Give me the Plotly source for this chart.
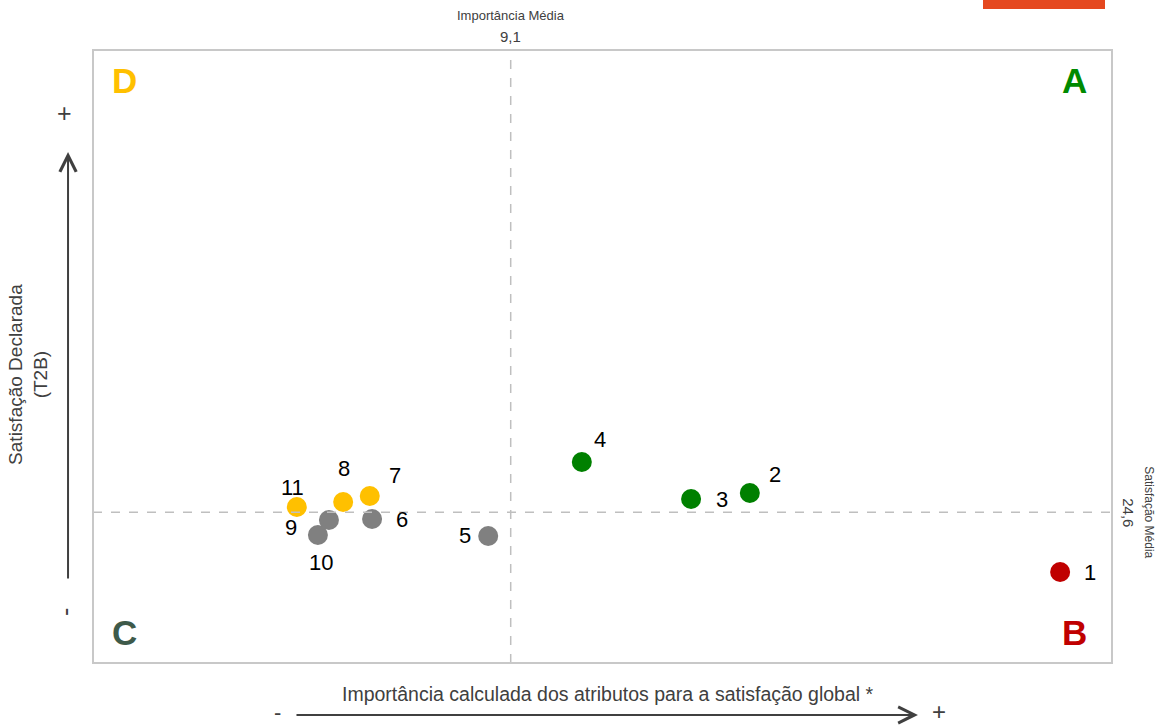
import plotly.graph_objects as go

# ---- data ----
labels = ["1", "2", "3", "4", "5", "6", "7", "8", "9", "10", "11"]
importance = [21.07, 14.31, 13.03, 10.65, 8.61, 6.08, 6.03, 5.45, 5.14, 4.90, 4.44]
satisfaction = [14.85, 27.73, 26.75, 32.79, 20.72, 23.49, 27.24, 26.26, 23.33, 20.88, 25.45]
quadrant = ["B", "A", "A", "A", "C", "C", "D", "D", "C", "C", "D"]
mean_importance = 9.1
mean_satisfaction = 24.6
mean_importance_label = "9,1"
mean_satisfaction_label = "24,6"

# ---- style ----
quad_color = {"A": "#008000", "B": "#C00000", "C": "#808080", "D": "#FFC000"}
letter_color = {"A": "#008A00", "B": "#C00000", "C": "#3E5A4A", "D": "#FFC000"}
label_offsets = [(30, -1), (25, 19), (31, 0), (18, 23), (-23, 0), (30, 0),
                 (25, 21), (1, 34), (-38, -8), (3, -27), (-4, 19)]
FONT = "Liberation Sans Narrow, Arial Narrow, Liberation Sans, Arial, sans-serif"
X_RANGE = [0, 22.2]
Y_RANGE = [0, 100]

fig = go.Figure()
fig.add_trace(go.Scatter(
    x=importance, y=satisfaction, mode="markers",
    marker=dict(size=20, color=[quad_color[q] for q in quadrant], line=dict(width=0)),
    hoverinfo="skip", showlegend=False))

for lab, xv, yv, (dx, dy) in zip(labels, importance, satisfaction, label_offsets):
    fig.add_annotation(x=xv, y=yv, text=lab, showarrow=False, xshift=dx, yshift=dy,
                       font=dict(family=FONT, size=22, color="#000000"))

# mean lines
fig.add_shape(type="line", x0=mean_importance, x1=mean_importance, y0=Y_RANGE[0], y1=Y_RANGE[1],
              xref="x", yref="y", line=dict(color="#BFBFBF", width=1.5, dash="dash"))
fig.add_shape(type="line", x0=X_RANGE[0], x1=X_RANGE[1], y0=mean_satisfaction, y1=mean_satisfaction,
              xref="x", yref="y", line=dict(color="#BFBFBF", width=1.5, dash="dash"))
# border
fig.add_shape(type="rect", x0=0, x1=1, y0=0, y1=1, xref="paper", yref="paper",
              line=dict(color="#C8C8C8", width=2))

# quadrant letters
for q, (px, py, xa, ya) in {"D": (0.017, 0.985, "left", "top"), "A": (0.977, 0.985, "right", "top"),
                            "C": (0.017, 0.015, "left", "bottom"), "B": (0.977, 0.015, "right", "bottom")}.items():
    fig.add_annotation(x=px, y=py, xref="paper", yref="paper", text="<b>%s</b>" % q, showarrow=False,
                       xanchor=xa, yanchor=ya, font=dict(family="Liberation Sans, Arial, sans-serif",
                                                        size=35, color=letter_color[q]))

# mean labels
fig.add_annotation(x=mean_importance, y=1, xref="x", yref="paper", yshift=44, xanchor="center",
                   text="Importância Média", showarrow=False,
                   font=dict(family=FONT, size=13, color="#404040"))
fig.add_annotation(x=mean_importance, y=1, xref="x", yref="paper", yshift=24, xanchor="center",
                   text=mean_importance_label, showarrow=False,
                   font=dict(family=FONT, size=15, color="#404040"))
fig.add_annotation(x=1, y=mean_satisfaction, xref="paper", yref="y", xshift=37, xanchor="center",
                   text="Satisfação Média", textangle=90, showarrow=False,
                   font=dict(family=FONT, size=12, color="#404040"))
fig.add_annotation(x=1, y=mean_satisfaction, xref="paper", yref="y", xshift=17, xanchor="center",
                   text=mean_satisfaction_label, textangle=90, showarrow=False,
                   font=dict(family=FONT, size=15, color="#404040"))

# axis titles
fig.add_annotation(x=0.505, y=0, xref="paper", yref="paper", yshift=-44, xanchor="center",
                   text="Importância calculada dos atributos para a satisfação global *",
                   showarrow=False, font=dict(family=FONT, size=19.5, color="#404040"))
fig.add_annotation(x=0, y=0.47, xref="paper", yref="paper", xshift=-65, xanchor="center",
                   yanchor="middle", text="Satisfação Declarada<br>(T2B)", textangle=-90,
                   showarrow=False, font=dict(family=FONT, size=19, color="#404040"))

# arrows
fig.add_annotation(x=-0.0245, y=0.8336, xref="paper", yref="paper", ax=0, ay=428,
                   axref="pixel", ayref="pixel", text="", showarrow=True,
                   arrowhead=5, arrowsize=1.6, arrowwidth=2, arrowcolor="#404040")
fig.add_annotation(x=0.8096, y=-0.0848, xref="paper", yref="paper", ax=-623, ay=0,
                   axref="pixel", ayref="pixel", text="", showarrow=True,
                   arrowhead=5, arrowsize=1.6, arrowwidth=2, arrowcolor="#404040")
fig.add_annotation(x=0, y=0.8336, xref="paper", yref="paper", xshift=-29, yshift=39, xanchor="center",
                   yanchor="middle", text="+", showarrow=False,
                   font=dict(family=FONT, size=25, color="#404040"))
fig.add_annotation(x=0, y=0.0897, xref="paper", yref="paper", xshift=-28, yshift=-4, xanchor="center",
                   yanchor="middle", text="-", textangle=-90, showarrow=False,
                   font=dict(family=FONT, size=25, color="#404040"))
fig.add_annotation(x=(277 - 93) / 1019, y=0, xref="paper", yref="paper", yshift=-64, xanchor="center",
                   yanchor="bottom", text="-", showarrow=False,
                   font=dict(family=FONT, size=22, color="#404040"))
fig.add_annotation(x=(939 - 93) / 1019, y=0, xref="paper", yref="paper", yshift=-64, xanchor="center",
                   yanchor="bottom", text="+", showarrow=False,
                   font=dict(family=FONT, size=24, color="#404040"))

# orange tab at top-right
fig.add_shape(type="rect", x0=(983 - 93) / 1019, x1=(1105 - 93) / 1019, y0=(663 - 9) / 613 , y1=(663 + 2) / 613,
              xref="paper", yref="paper", line=dict(width=0), fillcolor="#E5481F")

fig.update_xaxes(range=X_RANGE, visible=False, showgrid=False, zeroline=False, fixedrange=True)
fig.update_yaxes(range=Y_RANGE, visible=False, showgrid=False, zeroline=False, fixedrange=True)
fig.update_layout(width=1159, height=727, margin=dict(l=93, r=47, t=50, b=64),
                  plot_bgcolor="white", paper_bgcolor="white", showlegend=False)

fig.write_html("out.html", config={"displayModeBar": False})

# remove the default 8px body margin so the figure sits at the page origin
with open("out.html", "r", encoding="utf-8") as f:
    html = f.read()
html = html.replace("<body>", '<body style="margin:0;padding:0;overflow:hidden">', 1)
with open("out.html", "w", encoding="utf-8") as f:
    f.write(html)
